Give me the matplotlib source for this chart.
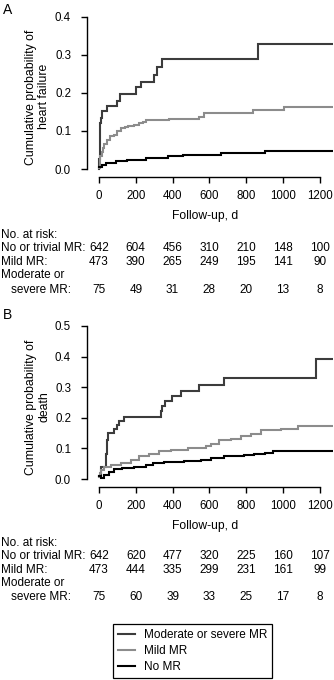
#!/usr/bin/env python3

import numpy
from matplotlib import pyplot
import matplotlib.transforms


pyplot.rcParams["font.family"] = ["Liberation Sans", "DejaVu Sans"]

COLOR_MOD = "#3c3c3c"
COLOR_MILD = "#8c8c8c"
COLOR_NO = "#000000"

# panel A: heart failure (step times in days, cumulative probability)
HF_MOD_T = [0, 2, 4, 6, 8, 12, 15, 42, 100, 113, 204, 231, 300, 313, 340, 867, 1265]
HF_MOD_Y = [0.0, 0.027, 0.053, 0.08, 0.12, 0.135, 0.152, 0.165, 0.18, 0.197,
	0.215, 0.23, 0.248, 0.268, 0.288, 0.328, 0.328]
HF_MILD_T = [0, 3, 8, 14, 22, 30, 42, 60, 80, 100, 118, 140, 160, 190, 215, 240,
	255, 380, 545, 573, 836, 1005, 1265]
HF_MILD_Y = [0.003, 0.02, 0.033, 0.045, 0.055, 0.065, 0.075, 0.087, 0.09, 0.1,
	0.107, 0.111, 0.114, 0.117, 0.12, 0.124, 0.128, 0.131, 0.138, 0.148, 0.155,
	0.162, 0.162]
HF_NO_T = [0, 18, 36, 91, 155, 255, 373, 455, 664, 900, 1265]
HF_NO_Y = [0.005, 0.01, 0.015, 0.02, 0.024, 0.03, 0.035, 0.038, 0.042, 0.047, 0.047]

# panel B: death
D_MOD_T = [0, 9, 36, 42, 51, 82, 100, 109, 136, 336, 342, 360, 395, 445, 542,
	682, 1182, 1265]
D_MOD_Y = [0.01, 0.04, 0.083, 0.126, 0.15, 0.164, 0.178, 0.19, 0.204, 0.222,
	0.238, 0.254, 0.27, 0.289, 0.308, 0.33, 0.391, 0.391]
D_MILD_T = [0, 5, 12, 27, 64, 118, 173, 218, 273, 327, 391, 482, 582, 609, 655,
	718, 773, 827, 882, 991, 1082, 1265]
D_MILD_Y = [0.007, 0.02, 0.03, 0.039, 0.045, 0.052, 0.063, 0.074, 0.083, 0.09,
	0.096, 0.103, 0.107, 0.115, 0.126, 0.132, 0.14, 0.148, 0.159, 0.164, 0.172,
	0.172]
D_NO_T = [0, 12, 27, 55, 82, 127, 191, 255, 291, 355, 464, 555, 609, 682, 791,
	845, 900, 945, 1265]
D_NO_Y = [0.01, 0.005, 0.012, 0.023, 0.032, 0.037, 0.039, 0.045, 0.052, 0.055,
	0.059, 0.063, 0.07, 0.074, 0.077, 0.083, 0.086, 0.09, 0.09]

RISK_DAYS = [0, 200, 400, 600, 800, 1000, 1200]
HF_RISK_NO = [642, 604, 456, 310, 210, 148, 100]
HF_RISK_MILD = [473, 390, 265, 249, 195, 141, 90]
HF_RISK_MOD = [75, 49, 31, 28, 20, 13, 8]
D_RISK_NO = [642, 620, 477, 320, 225, 160, 107]
D_RISK_MILD = [473, 444, 335, 299, 231, 161, 99]
D_RISK_MOD = [75, 60, 39, 33, 25, 17, 8]

X_TICKS = [0, 200, 400, 600, 800, 1000, 1200]

FIG_W, FIG_H = 334, 680

PANELS = [
	dict(letter = "A", ylabel = "Cumulative probability of\nheart failure",
		top = 10, bottom = 177, ylim = (-0.021, 0.418), yticks = [0.0, 0.1, 0.2, 0.3, 0.4],
		curves = [(HF_MOD_T, HF_MOD_Y), (HF_MILD_T, HF_MILD_Y), (HF_NO_T, HF_NO_Y)],
		risk = (HF_RISK_NO, HF_RISK_MILD, HF_RISK_MOD),
		letter_y = 10, risk_y = (235, 248, 262, 275, 290)),
	dict(letter = "B", ylabel = "Cumulative probability of\ndeath",
		top = 320, bottom = 487, ylim = (-0.026, 0.5196), yticks = [0.0, 0.1, 0.2, 0.3, 0.4, 0.5],
		curves = [(D_MOD_T, D_MOD_Y), (D_MILD_T, D_MILD_Y), (D_NO_T, D_NO_Y)],
		risk = (D_RISK_NO, D_RISK_MILD, D_RISK_MOD),
		letter_y = 315, risk_y = (543, 556, 570, 583, 597)),
]

LABELS = ["Moderate or severe MR", "Mild MR", "No MR"]
COLORS = [COLOR_MOD, COLOR_MILD, COLOR_NO]


def fy(px):
	return 1.0 - px / FIG_H


def plot_panel(fig, cfg):
	left = 87 / FIG_W
	width = 246 / FIG_W
	ax = fig.add_axes([left, fy(cfg["bottom"]), width,
		(cfg["bottom"] - cfg["top"]) / FIG_H])
	lines = []
	for (t, y), color in zip(cfg["curves"], COLORS):
		ln, = ax.step(t, y, where = "post", color = color, linewidth = 1.5,
			solid_joinstyle = "miter")
		lines.append(ln)
	ax.set_xlim(-65, 1272)
	ax.set_ylim(*cfg["ylim"])
	for sp in ("top", "right"):
		ax.spines[sp].set_visible(False)
	ax.spines["left"].set_bounds(cfg["yticks"][0], cfg["yticks"][-1])
	ax.spines["bottom"].set_bounds(0, 1200)
	for sp in ("left", "bottom"):
		ax.spines[sp].set_linewidth(1.0)
	ax.set_xticks(X_TICKS)
	ax.set_yticks(cfg["yticks"])
	ax.set_yticklabels(["%.1f" % v for v in cfg["yticks"]])
	ax.tick_params(axis = "both", direction = "out", length = 4.5, width = 1.0,
		labelsize = 8.3)
	ax.tick_params(axis = "y", pad = 7)
	ax.tick_params(axis = "x", pad = 5)
	ax.set_ylabel(cfg["ylabel"], fontsize = 8.8, linespacing = 1.1)
	ax.yaxis.set_label_coords(-0.15, 0.48)
	ax.set_xlabel("Follow-up, d", fontsize = 8.7)
	ax.xaxis.set_label_coords(0.48, -0.2)
	fig.text(3 / FIG_W, fy(cfg["letter_y"]), cfg["letter"], fontsize = 10,
		ha = "left", va = "center")
	# number at risk table
	ry = cfg["risk_y"]
	fs = 8.5
	fig.text(1 / FIG_W, fy(ry[0]), "No. at risk:", fontsize = fs, va = "center")
	fig.text(1 / FIG_W, fy(ry[1]), "No or trivial MR:", fontsize = fs, va = "center")
	fig.text(1 / FIG_W, fy(ry[2]), "Mild MR:", fontsize = fs, va = "center")
	fig.text(1 / FIG_W, fy(ry[3]), "Moderate or", fontsize = fs, va = "center")
	fig.text(11 / FIG_W, fy(ry[4]), "severe MR:", fontsize = fs, va = "center")
	trans = matplotlib.transforms.blended_transform_factory(ax.transData, fig.transFigure)
	for row, yp in zip(cfg["risk"], (ry[1], ry[2], ry[4])):
		for d, n in zip(RISK_DAYS, row):
			ax.text(d, fy(yp), str(n), transform = trans, fontsize = fs,
				ha = "center", va = "center", clip_on = False)
	return lines


def hdl_plot():
	fig = pyplot.figure(figsize = (FIG_W / 100, FIG_H / 100), dpi = 100)
	lines = None
	for cfg in PANELS:
		lines = plot_panel(fig, cfg)
	leg = fig.legend(lines, LABELS, loc = "center",
		bbox_to_anchor = (192.5 / FIG_W, fy(651)), fontsize = 8.5,
		handlelength = 1.45, handletextpad = 0.7, labelspacing = 0.35,
		borderpad = 0.45, fancybox = False, framealpha = 1.0)
	leg.get_frame().set_edgecolor("#000000")
	leg.get_frame().set_linewidth(0.9)
	return fig


if __name__ == "__main__":
	fig = hdl_plot()
	fig.savefig("out.png", dpi = 100)
	pyplot.close()
